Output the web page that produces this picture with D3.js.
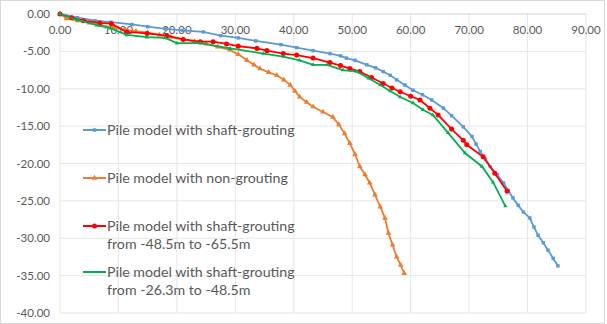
<!DOCTYPE html>
<html>
<head>
<meta charset="utf-8">
<script src="https://cdn.jsdelivr.net/npm/d3@7"></script>
<style>
  body { margin: 0; background: #fff; }
  svg { display: block; font-family: Lato, "Open Sans", sans-serif; }
</style>
</head>
<body>
<div id="vis"></div>
<script>
// x = settlement-like value, y = depth-like value
var shaftGrouting = [
  [0,0],[3,-0.5],[6,-0.9],[8.7,-1.1],[12.3,-1.4],[15,-1.7],[18,-2.0],[21,-2.2],[24.5,-2.4],[27.5,-2.9],
  [30.5,-3.2],[33.5,-3.6],[37.8,-4.1],[40.5,-4.5],[43.3,-4.9],[46.2,-5.3],[48,-5.6],[49,-5.9],[50.5,-6.2],
  [52.5,-6.8],[54,-7.2],[55.3,-7.7],[56.5,-8.2],[57.6,-8.8],[59,-9.5],[60.4,-10.2],[62,-10.8],[63.6,-11.5],
  [65.6,-12.6],[67,-13.6],[69,-15.1],[70.5,-16.4],[71.2,-17.4],[71.9,-18.4],[72.8,-19.4],[73.6,-20.4],
  [74.8,-21.5],[75.9,-22.6],[76.7,-23.6],[77.5,-24.6],[78.4,-25.6],[79.3,-26.5],[80.4,-27.3],[81.1,-28.5],
  [81.8,-29.6],[82.7,-30.6],[83.5,-31.6],[84.4,-32.7],[85.2,-33.7]
];
var nonGrouting = [
  [0,0],[1.1,-0.6],[3,-0.9],[5,-1.2],[7,-1.5],[9,-1.8],[11,-2.1],[13,-2.3],[15,-2.5],[17,-2.8],[19,-3.1],
  [21,-3.4],[23,-3.7],[25,-4.0],[27,-4.4],[29.1,-4.8],[30.5,-5.4],[32,-6.2],[33.2,-6.8],[34.2,-7.3],
  [35.7,-7.8],[37.1,-8.2],[38.3,-8.8],[39.4,-9.5],[40.2,-10.3],[41,-11.1],[42.2,-11.8],[43.3,-12.4],
  [45,-13.1],[46.7,-13.8],[47.7,-14.8],[48.7,-16],[49.6,-17.3],[50.5,-18.8],[51.3,-20.4],[52.2,-21.5],
  [53,-22.6],[53.9,-24.2],[54.8,-25.8],[55.6,-27.3],[56.2,-29.3],[56.9,-30.9],[57.6,-32.5],[58.3,-33.6],[58.9,-34.7]
];
var grouting485to655 = [
  [0,0],[2,-0.5],[4,-0.9],[6.8,-1.2],[8.8,-1.3],[11.4,-2.4],[14.9,-2.6],[18.3,-2.9],[21.1,-3.4],[24,-3.7],
  [26.2,-3.7],[28.5,-4.0],[30.5,-4.3],[33.7,-4.6],[35.4,-4.9],[38.2,-5.3],[40.5,-5.5],[43.3,-5.9],[46.2,-6.5],
  [48,-6.9],[49.6,-7.3],[51.3,-7.7],[53.3,-8.5],[55.3,-9.3],[56.8,-9.9],[58.2,-10.4],[60,-11.0],[61.6,-11.5],
  [63.3,-12.6],[64.7,-13.5],[67,-15.4],[69,-16.9],[69.6,-17.5],[72.4,-19.1],[74.4,-21.3],[76.5,-23.7]
];
var grouting263to485 = [
  [0,0],[3,-0.8],[6.3,-1.5],[8.6,-1.9],[11.4,-2.8],[14.9,-3.1],[18,-3.2],[20,-3.9],[24,-3.9],[29.1,-4.6],
  [34.8,-5.3],[38.2,-5.7],[41,-6.2],[43.3,-6.8],[45.7,-6.8],[48.4,-7.5],[50.8,-7.7],[52.8,-8.6],[54.8,-9.5],
  [56.5,-10.3],[58.2,-11.1],[60.4,-11.9],[62.1,-12.8],[63.8,-13.5],[66.4,-15.9],[69.3,-18.6],[72.2,-20.4],
  [74.1,-22.5],[76.2,-25.7]
];

var xTicks = [0,10,20,30,40,50,60,70,80,90];
var yTicks = [0,-5,-10,-15,-20,-25,-30,-35,-40];

var seriesNames = [
  ["Pile model with shaft-grouting"],
  ["Pile model with non-grouting"],
  ["Pile model with shaft-grouting", "from -48.5m to -65.5m"],
  ["Pile model with shaft-grouting", "from -26.3m to -48.5m"]
];

var series = [
  {data: shaftGrouting, color: "#5b9bd5", marker: d3.symbolSquare, size: 12},
  {data: nonGrouting, color: "#ed7d31", marker: d3.symbolTriangle, size: 14},
  {data: grouting485to655, color: "#ff0000", marker: d3.symbolCircle, size: 20},
  {data: grouting263to485, color: "#00b050", marker: d3.symbolTriangle, size: 8}
];

var W = 607, H = 324;
var svg = d3.select("#vis").append("svg").attr("width", W).attr("height", H);

svg.append("rect")
  .attr("x", 0.5).attr("y", 0.5).attr("width", 604).attr("height", H - 1)
  .attr("fill", "#fff").attr("stroke", "#d9d9d9");

var x = d3.scaleLinear().domain([0, 90]).range([60, 586]);
var y = d3.scaleLinear().domain([0, -40]).range([14, 313]);

// grid
svg.append("g").selectAll("line").data(xTicks).enter().append("line")
  .attr("x1", d => x(d)).attr("x2", d => x(d))
  .attr("y1", y(0)).attr("y2", y(-40))
  .attr("stroke", "#e6e6e6").attr("stroke-width", 1);
svg.append("g").selectAll("line").data(yTicks).enter().append("line")
  .attr("x1", x(0)).attr("x2", x(90))
  .attr("y1", d => y(d)).attr("y2", d => y(d))
  .attr("stroke", d => d === 0 ? "#d0d0d0" : "#e6e6e6").attr("stroke-width", 1);

// tick labels
svg.append("g").selectAll("text").data(xTicks).enter().append("text")
  .attr("x", d => x(d)).attr("y", 34)
  .attr("text-anchor", "middle")
  .attr("font-size", 11.5).attr("fill", "#595959")
  .text(d => d.toFixed(2));
svg.append("g").selectAll("text").data(yTicks).enter().append("text")
  .attr("x", 50).attr("y", d => y(d) + 4)
  .attr("text-anchor", "end")
  .attr("font-size", 11.5).attr("fill", "#595959")
  .text(d => d === 0 ? "0.00" : d.toFixed(2));

// series
var line = d3.line().x(d => x(d[0])).y(d => y(d[1]));
series.forEach(function(s) {
  var g = svg.append("g");
  g.append("path").attr("d", line(s.data))
    .attr("fill", "none").attr("stroke", s.color).attr("stroke-width", 1.8);
  g.selectAll("path.m").data(s.data).enter().append("path")
    .attr("class", "m")
    .attr("d", d3.symbol().type(s.marker).size(s.size))
    .attr("transform", d => "translate(" + x(d[0]) + "," + y(d[1]) + ")")
    .attr("fill", s.color);
});

// legend
var legendY = [130, 178, 226, 272];
var legend = svg.append("g");
series.forEach(function(s, i) {
  var ly = legendY[i];
  legend.append("line").attr("x1", 83).attr("x2", 106).attr("y1", ly).attr("y2", ly)
    .attr("stroke", s.color).attr("stroke-width", 2);
  if (i < 3) {
    legend.append("path")
      .attr("d", d3.symbol().type(s.marker).size(s.size))
      .attr("transform", "translate(94.5," + ly + ")")
      .attr("fill", s.color);
  }
  seriesNames[i].forEach(function(t, j) {
    legend.append("text").attr("x", 107).attr("y", ly + 5 + j * 18)
      .attr("font-size", 14.2).attr("fill", "#595959").text(t);
  });
});
</script>
</body>
</html>
